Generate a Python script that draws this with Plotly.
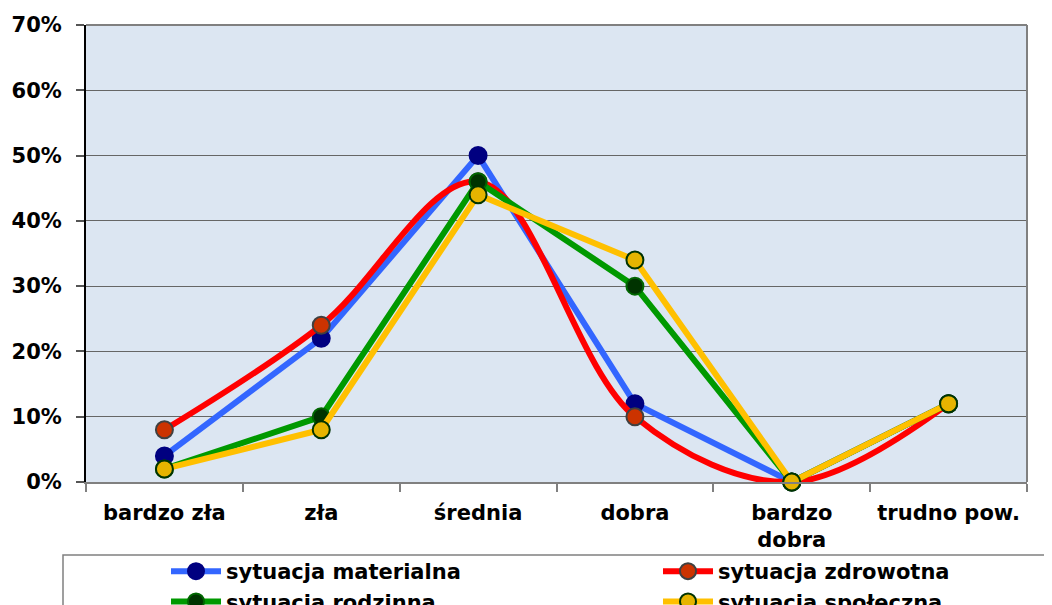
import plotly.graph_objects as go

categories = ["bardzo zła", "zła", "średnia", "dobra", "bardzo<br>dobra", "trudno pow."]
materialna = [0.04, 0.22, 0.50, 0.12, 0.0, 0.12]
zdrowotna = [0.08, 0.24, 0.46, 0.10, 0.0, 0.12]
rodzinna = [0.02, 0.10, 0.46, 0.30, 0.0, 0.12]
spoleczna = [0.02, 0.08, 0.44, 0.34, 0.0, 0.12]
y_ticks = [0, 0.1, 0.2, 0.3, 0.4, 0.5, 0.6, 0.7]

FONT = "DejaVu Sans"

series = [
    ("sytuacja materialna", materialna, "#3366FF", "#000080", "#000080", "linear", "legend"),
    ("sytuacja zdrowotna", zdrowotna, "#FF0000", "#CC3300", "#404040", "spline", "legend2"),
    ("sytuacja rodzinna", rodzinna, "#009900", "#003300", "#006600", "linear", "legend"),
    ("sytuacja społeczna", spoleczna, "#FFC000", "#E6B400", "#003300", "linear", "legend2"),
]

fig = go.Figure()
for name, vals, lc, mc, mlc, shape, lg in series:
    fig.add_trace(go.Scatter(
        x=categories, y=vals, name=name, mode="lines+markers",
        line=dict(color=lc, width=6, shape=shape, smoothing=1.0),
        marker=dict(size=17, color=mc, line=dict(color=mlc, width=2)),
        cliponaxis=False, legend=lg,
    ))

# page has an 8px body margin: figure drawn from (8, 8)
OFF = 8
W, H = 1052 - OFF, 605 - OFF
PL, PR, PT, PB = 86, 1027, 25, 482  # plot area in page pixels
L, T = PL - OFF, PT - OFF
R, B = W - (PR - OFF), H - (PB - OFF)
pw, ph = PR - PL, PB - PT

def px_x(px):
    return (px - PL) / pw

def px_y(py):
    return (PB - py) / ph

legend_style = dict(
    orientation="v", yanchor="top", xanchor="left",
    font=dict(family=FONT, size=21, color="black", weight="bold"),
    bgcolor="rgba(0,0,0,0)", itemwidth=50, tracegroupgap=0,
)

fig.update_layout(
    width=W, height=H,
    margin=dict(l=L, r=R, t=T, b=B, autoexpand=False),
    paper_bgcolor="white",
    plot_bgcolor="#DCE6F2",
    font=dict(family=FONT, size=21, color="black"),
    showlegend=True,
    legend=dict(x=px_x(166), y=px_y(551), **legend_style),
    legend2=dict(x=px_x(658), y=px_y(551), **legend_style),
    shapes=[
        dict(type="rect", xref="paper", yref="paper",
             x0=px_x(63), x1=px_x(1120), y0=px_y(555), y1=px_y(700),
             line=dict(color="#808080", width=1.5), fillcolor="rgba(0,0,0,0)"),
        dict(type="line", xref="paper", yref="paper",
             x0=1, x1=1, y0=0, y1=1, line=dict(color="#808080", width=2)),
        dict(type="line", xref="paper", yref="paper",
             x0=0, x1=1, y0=1, y1=1, line=dict(color="#808080", width=2)),
    ],
)

fig.update_xaxes(
    type="category",
    range=[-0.5, 5.5],
    tickson="boundaries",
    ticks="outside", ticklen=8, tickcolor="#808080", tickwidth=1.5,
    showline=True, linecolor="#808080", linewidth=1.5,
    showgrid=False,
    tickfont=dict(family=FONT, size=21, color="black", weight="bold"),
    ticklabelstandoff=11,
)
fig.update_yaxes(
    range=[0, 0.7],
    tickvals=y_ticks,
    tickformat=".0%",
    ticks="outside", ticklen=8, tickcolor="#555555", tickwidth=1.5,
    showline=True, linecolor="black", linewidth=2,
    showgrid=True, gridcolor="#666666", gridwidth=1.2,
    zeroline=False,
    tickfont=dict(family=FONT, size=21, color="black", weight="bold"),
    ticklabelstandoff=10,
)

fig.write_html("out.html")
